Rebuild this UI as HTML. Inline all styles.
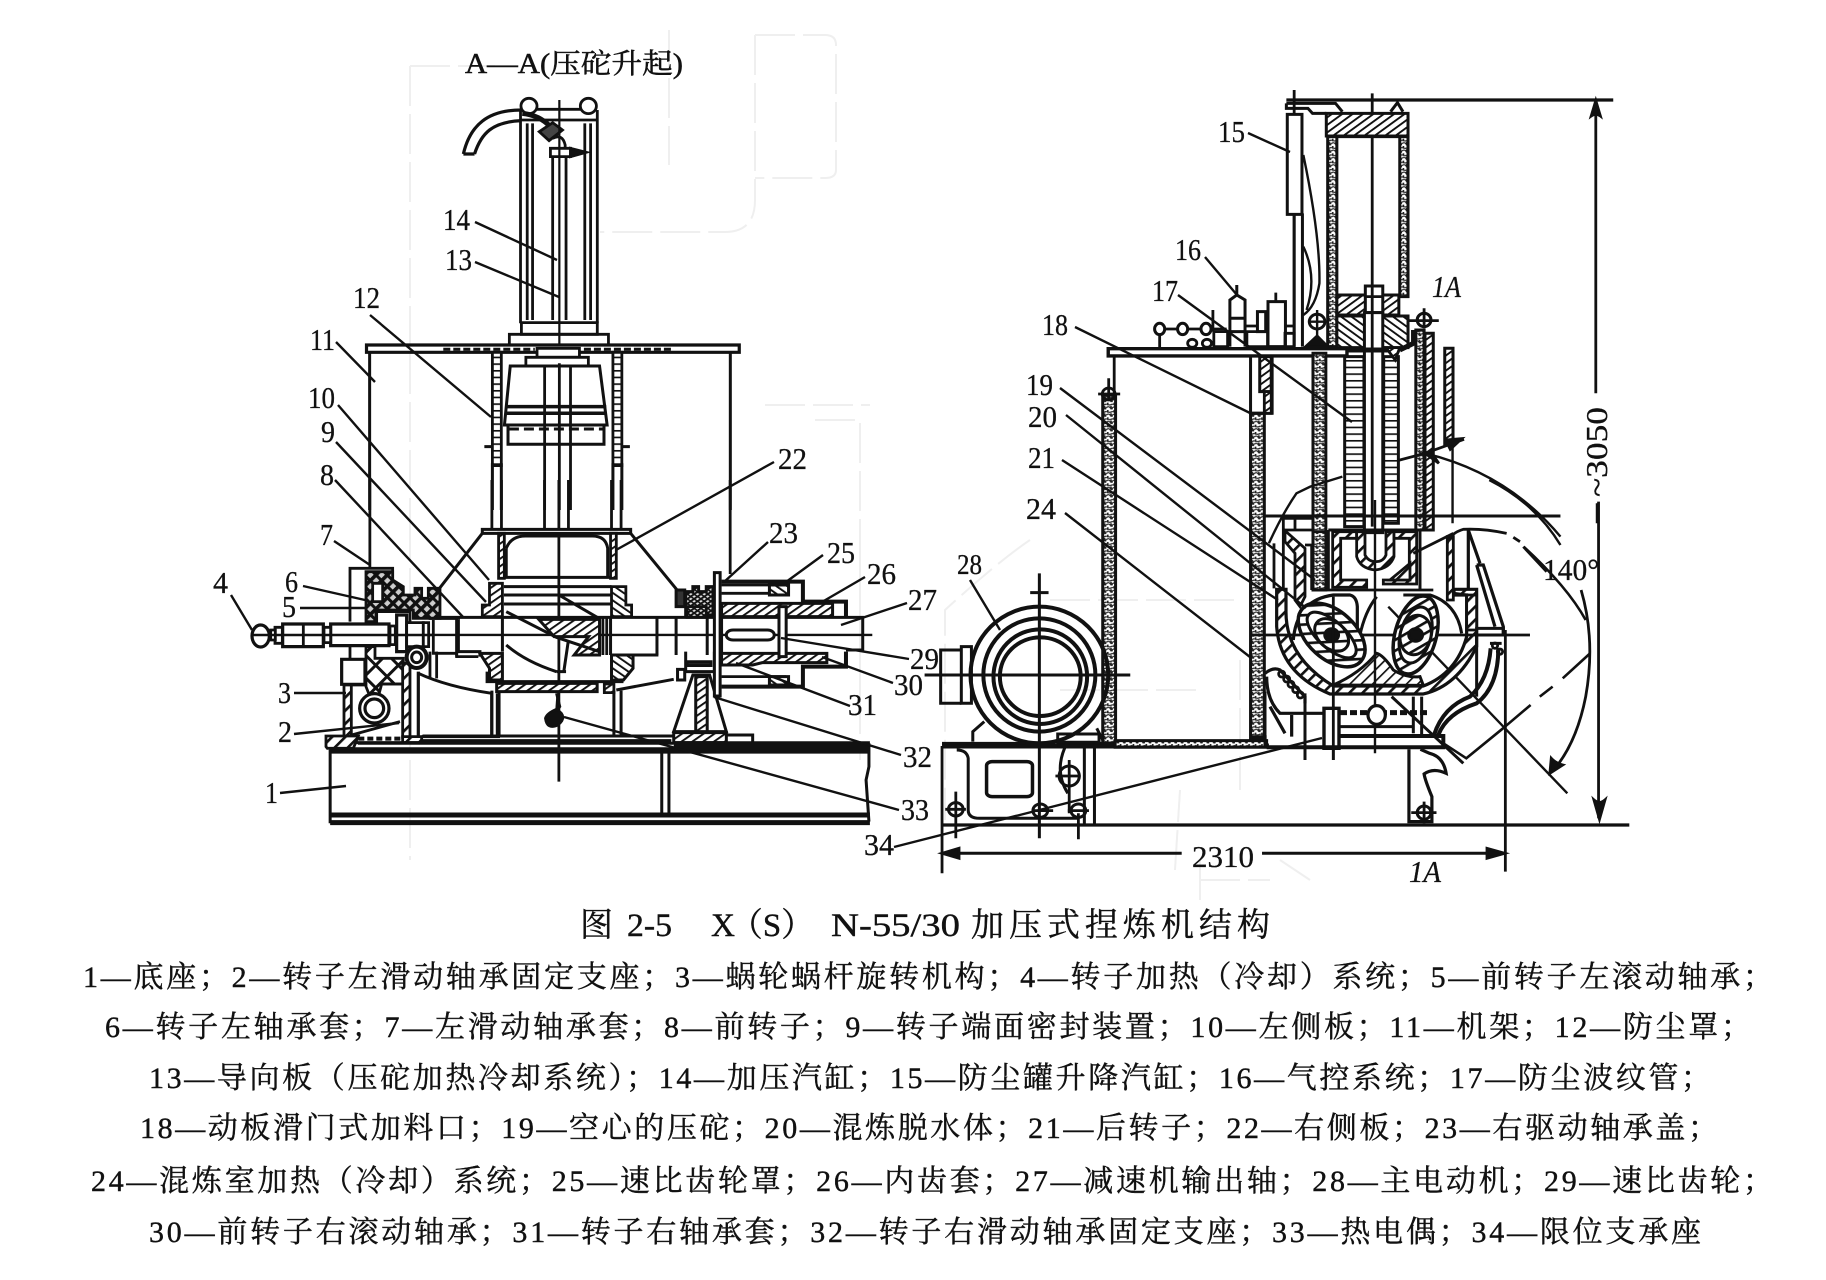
<!DOCTYPE html>
<html><head><meta charset="utf-8"><style>
html,body{margin:0;padding:0;background:#fff}
svg{display:block}
.z *{vector-effect:non-scaling-stroke}
.l{font-family:"Liberation Serif","Noto Serif CJK SC",serif;font-size:31px;fill:#111;stroke:#111;stroke-width:.3}
.c{font-family:"Liberation Serif","Noto Serif CJK SC",serif;font-size:30px;fill:#111;stroke:#111;stroke-width:.4}
</style></head><body>
<svg width="1826" height="1280" viewBox="0 0 1826 1280" xmlns="http://www.w3.org/2000/svg">
<defs>
<pattern id="h" width="16" height="16" patternUnits="userSpaceOnUse" patternTransform="rotate(45)"><rect width="16" height="16" fill="#fff"/><rect width="5" height="16" fill="#111"/></pattern>
<pattern id="b" width="16" height="16" patternUnits="userSpaceOnUse" patternTransform="rotate(-45)"><rect width="16" height="16" fill="#fff"/><rect width="5" height="16" fill="#111"/></pattern>
<pattern id="h3" width="28" height="28" patternUnits="userSpaceOnUse" patternTransform="rotate(45)"><rect width="28" height="28" fill="#fff"/><rect width="8" height="28" fill="#111"/></pattern>
<pattern id="h4" width="24" height="24" patternUnits="userSpaceOnUse" patternTransform="rotate(45)"><rect width="24" height="24" fill="#fff"/><rect width="5" height="24" fill="#111"/></pattern>
<pattern id="x" width="22" height="22" patternUnits="userSpaceOnUse" patternTransform="rotate(45)"><rect width="22" height="22" fill="#fff"/><rect width="5" height="22" fill="#111"/><rect width="22" height="5" fill="#111"/></pattern>
<pattern id="x3" width="48" height="48" patternUnits="userSpaceOnUse" patternTransform="rotate(45)"><rect width="48" height="48" fill="#fff"/><rect width="9" height="48" fill="#111"/><rect width="48" height="9" fill="#111"/></pattern>
<pattern id="s" width="24" height="24" patternUnits="userSpaceOnUse" patternTransform="rotate(45)"><rect width="24" height="24" fill="#ccc"/><rect width="11" height="24" fill="#111"/><rect width="24" height="9" fill="#111"/></pattern>
<pattern id="d" width="10" height="10" patternUnits="userSpaceOnUse" patternTransform="rotate(45)"><rect width="10" height="10" fill="#ddd"/><rect width="5" height="10" fill="#111"/><rect width="10" height="4" fill="#111"/></pattern>
<pattern id="m" width="14" height="22" patternUnits="userSpaceOnUse"><rect width="14" height="22" fill="#fff"/><path d="M0 4Q7 10 14 4M0 15Q5 9 9 16T14 13M3 0V8M10 10V20" stroke="#222" stroke-width="3.5" fill="none"/></pattern>
<pattern id="r" width="10" height="20" patternUnits="userSpaceOnUse"><rect width="10" height="20" fill="#fff"/><rect width="10" height="5" fill="#111"/></pattern>
</defs>

<!-- ghost scan marks -->
<g fill="none" stroke="#efefef" stroke-width="2" stroke-dasharray="40 8">
<path d="M410 66H495M410 66V520M669 30V165M755 35V200Q755 232 725 232H600M755 35H825Q836 35 836 45V170Q836 178 825 178H755"/>
<path d="M765 405H870M815 420H860V700M860 550V760M410 520V860"/>
<path d="M1030 540Q1000 560 945 610V820M1050 600H1240M1240 660V790M1060 690H1200M1200 880H1270"/>
<path d="M1200 900V860M1175 870L1180 790M1280 860L1310 880"/>
</g>

<!-- Z1 -->
<g class="z" transform="translate(200,30) scale(.4464,.3333)" fill="none" stroke="#111" stroke-width="2.8">
<ellipse cx="737" cy="228" rx="18" ry="23"/><ellipse cx="870" cy="228" rx="18" ry="23"/>
<path d="M755 238H852M720 270H890M718 240V880M733 280V870M745 280V870M862 280V870M875 280V870M890 240V880"/>
<path d="M590 372C605 285 645 240 720 240M615 372C630 310 655 275 720 272M590 372H615" stroke-width="3.2"/>
<path d="M722 250Q760 255 785 290" stroke-width="5"/>
<path d="M760 305L790 278L812 300L782 332Z" fill="#444"/>
<path d="M790 325Q812 310 818 345V360M790 380V870M820 380V870"/>
<rect x="785" y="355" width="45" height="25" fill="#fff"/><path d="M830 355L865 367L830 380Z" fill="#111"/>
<path d="M805 210V1440" stroke-width="2.2"/>
<rect x="720" y="878" width="170" height="35"/><rect x="693" y="913" width="222" height="32"/>
<rect x="373" y="945" width="835" height="22" fill="#fff" stroke-width="3.2"/>
<path d="M545 958H750M860 958H1060" stroke-dasharray="7 3" stroke-width="3"/>
<rect x="755" y="955" width="95" height="27" fill="#fff"/><rect x="730" y="982" width="140" height="26" fill="#fff"/>
<path d="M695 1008H895L912 1185H682Z" fill="#fff" stroke-width="3"/><path d="M684 1130H910M684 1150H910" stroke-width="3.5"/>
<rect x="690" y="1185" width="215" height="58" fill="#fff" stroke-width="3"/><path d="M692 1197H903" stroke-dasharray="10 5" stroke-width="3"/>
<path d="M772 1008V1440M830 1008V1440M805 1000V1440"/>
<path d="M380 967V1440M1188 967V1440" stroke-width="3"/>
<rect x="655" y="967" width="20" height="340" fill="url(#r)"/><rect x="925" y="967" width="20" height="340" fill="url(#r)"/>
<path d="M655 1300V1440M675 1300V1440M925 1300V1440M945 1300V1440M637 1250H655M945 1250H963" stroke-width="3"/>
</g>

<!-- Z2 -->
<g class="z" transform="translate(200,480) scale(.4785,.3333)" fill="none" stroke="#111" stroke-width="2.8">
<path d="M355 0V262M610 0V150M630 0V150M860 0V150M880 0V150M720 0V150M750 0V905M770 0V150M1108 0V282"/>
<rect x="590" y="148" width="310" height="12" fill="#fff" stroke-width="3"/>
<path d="M590 160L495 335M900 160L1000 335" stroke-width="3"/>
<rect x="624" y="160" width="12" height="135" fill="url(#h)"/><rect x="858" y="160" width="12" height="135" fill="url(#h)"/>
<path d="M640 205Q650 168 680 168H820Q848 168 852 205V292M640 292V205M635 292H860M635 320H860M635 345H860M635 372H860" stroke-width="3"/>
<path d="M605 310H632V410H590V375H605Z" fill="url(#h)"/><path d="M860 320H890V375H902V410H860Z" fill="url(#b)"/>
<path d="M500 412H1385V510H1350M540 420V515M632 410V515M858 410V525M955 415V525M995 415V525M1060 415V525M1090 415V520" stroke-width="3"/>
<path d="M535 515H585V530M880 525H958" stroke-width="3"/>
<path d="M270 465H1405" stroke-width="2.4"/>
<path d="M610 632V765M625 632V765M865 632V765M880 632V765" stroke-width="3"/>
<path d="M465 768H990" stroke-width="3"/><path d="M465 782H985M330 790H990" stroke-width="3"/>
<path d="M1100 765H1155V790" stroke-width="3"/>
<rect x="990" y="758" width="110" height="30" fill="url(#h)" stroke-width="3"/>
<path d="M270 808H1400M270 815H1400M990 790H1400M990 798H1400" stroke-width="4"/>
<path d="M272 810V1030M1398 790V860L1392 900L1398 1025" stroke-width="3"/>
<path d="M272 1005H1400" stroke-width="5"/><path d="M272 1028H1400" stroke-width="5"/>
<path d="M965 815V1003M980 815V1003" stroke-width="3"/>
<path d="M708 418H835V525H782L812 470H740Z" fill="url(#h)" stroke-width="3"/>
<path d="M842 415V525M850 415V525"/>
<path d="M640 395L745 472L835 515M750 345L830 412M640 495Q680 545 745 575M770 480L760 578M745 575H765" stroke-width="3"/>
<path d="M585 520H632V600H605V565Z" fill="url(#h)" stroke-width="3"/><path d="M860 525H905V565L885 600H860Z" fill="url(#b)" stroke-width="3"/>
<path d="M600 575V605H885" stroke-width="3"/>
<rect x="620" y="610" width="210" height="25" fill="url(#h)" stroke-width="3"/>
<rect x="845" y="612" width="20" height="26" fill="url(#h)"/>
<path d="M870 630L990 598" stroke-width="3"/><rect x="998" y="568" width="15" height="32" fill="#fff" stroke-width="3"/>
<path d="M745 640L752 680L742 700" fill="#111"/><path d="M745 688Q770 710 748 735Q725 750 722 715Q725 700 745 688Z" fill="#111"/>
<rect x="995" y="330" width="18" height="50" fill="#333" stroke-width="3"/>
<path d="M1015 405V335H1030V320H1042V335H1058V320H1072V405Z" fill="url(#d)" stroke-width="3"/>
<rect x="1018" y="380" width="40" height="32" fill="url(#d)"/>
<path d="M1015 515V575H1075V515" stroke-width="3"/><rect x="1018" y="545" width="50" height="12" fill="#222"/>
<path d="M1030 585L990 755H1100L1065 585Z" fill="#fff" stroke-width="3"/>
<rect x="1036" y="590" width="24" height="165" fill="url(#h)" stroke-width="3"/>
<rect x="1075" y="278" width="12" height="370" fill="#fff" stroke-width="3"/>
<path d="M1090 305H1260V365H1350V412M1350 515V560H1260V620H1090" stroke-width="4"/>
<path d="M1090 340H1225M1090 590H1225M1090 315H1190"/>
<rect x="1090" y="370" width="232" height="40" fill="url(#h)" stroke-width="3"/>
<path d="M1090 520H1310V548H1175L1155 555H1090Z" fill="url(#h)" stroke-width="3"/>
<rect x="1190" y="315" width="40" height="30" fill="url(#b)" stroke-width="3"/><rect x="1190" y="590" width="40" height="25" fill="url(#b)" stroke-width="3"/>
<rect x="1210" y="380" width="15" height="150" fill="#fff" stroke-width="3"/>
<rect x="1100" y="450" width="100" height="30" rx="14" fill="#fff" stroke-width="3"/>
</g>

<!-- Left bearing (isotropic detail) -->
<g class="z" transform="translate(240,550) scale(.3333)" fill="none" stroke="#111" stroke-width="2.8">
<path d="M330 215V55H458V90M330 290V325"/>
<path d="M378 215V65H458V90L490 110V135H525V115H545V145H565V115H600V205H520V180H410V215Z" fill="url(#s)"/>
<rect x="398" y="100" width="30" height="55" fill="#fff"/>
<path d="M408 215V185H510V215"/>
<rect x="272" y="222" width="175" height="65" fill="#fff" stroke-width="3.2"/>
<rect x="450" y="228" width="16" height="56" fill="#fff"/>
<rect x="470" y="195" width="30" height="110" fill="#fff" stroke-width="3.2"/>
<rect x="500" y="218" width="50" height="72" fill="#fff"/><rect x="550" y="218" width="16" height="72" fill="#fff"/>
<path d="M580 210V310H650V320H715"/><path d="M650 205V320M566 205H660" stroke-width="3"/>
<rect x="128" y="222" width="122" height="68" fill="#fff" stroke-width="3.2"/><path d="M190 222V290"/>
<rect x="252" y="232" width="20" height="46" fill="#fff"/><rect x="105" y="232" width="22" height="48" fill="#fff"/><rect x="92" y="240" width="14" height="30" fill="#fff"/>
<ellipse cx="62" cy="258" rx="26" ry="33" fill="#fff" stroke-width="3.2"/>
<path d="M40 255H580" stroke-width="2.4"/>
<path d="M378 290H405V325H490V402H425L415 440H390L378 410Z" fill="url(#x3)"/>
<rect x="305" y="328" width="70" height="75" fill="#fff" stroke-width="3.2"/>
<rect x="312" y="405" width="22" height="165" fill="url(#h3)"/>
<path d="M335 405H378M425 402H490"/>
<ellipse cx="403" cy="475" rx="44" ry="44" fill="#fff" stroke-width="3.2"/><ellipse cx="403" cy="475" rx="28" ry="28" stroke-width="3.2"/>
<path d="M335 555L480 515"/>
<rect x="488" y="340" width="22" height="222" fill="url(#h3)"/>
<path d="M535 365V558" stroke-width="3.2"/>
<ellipse cx="530" cy="322" rx="30" ry="32" fill="#fff" stroke-width="4"/><ellipse cx="530" cy="322" rx="15" ry="16" stroke-width="3"/>
<path d="M570 305V385M590 305V385"/>
<path d="M535 370Q620 410 755 430V558M772 430V558" stroke-width="3"/>
<path d="M258 558H355L340 595H262L258 590Z" fill="url(#h3)"/>
<path d="M355 566H490" stroke-dasharray="6 3" stroke-width="4"/>
<path d="M488 560H545V578H488Z" fill="url(#h3)"/>
<path d="M345 578H780M545 560H780" stroke-width="3"/>
</g>

<!-- Z3 -->
<g class="z" transform="translate(920,80) scale(.4591,.3333)" fill="none" stroke="#111" stroke-width="2.8">
<path d="M798 60H1510" stroke-width="3.2"/>
<path d="M815 30V800M985 40V620"/>
<path d="M798 70H905L920 95M798 70V85H845L855 100H885M1025 95L1040 68L1052 95" stroke-width="3"/>
<rect x="885" y="100" width="178" height="68" fill="url(#h)" stroke-width="3"/>
<rect x="888" y="170" width="20" height="630" fill="url(#m)" stroke-width="3"/>
<rect x="1045" y="170" width="18" height="480" fill="url(#m)" stroke-width="3"/>
<path d="M908 170H1045" stroke-width="3"/>
<rect x="908" y="645" width="135" height="60" fill="url(#h)" stroke-width="3"/>
<rect x="970" y="618" width="38" height="80" fill="#fff" stroke-width="3"/><path d="M970 650H1008M985 620V700"/>
<rect x="908" y="708" width="155" height="95" fill="url(#b)" stroke-width="3"/>
<rect x="968" y="698" width="40" height="660" fill="#fff" stroke-width="3"/><path d="M985 698V1340"/>
<rect x="800" y="103" width="32" height="300" fill="#fff" stroke-width="3"/>
<path d="M815 400V800M833 400V800" stroke-width="3"/>
<path d="M835 225Q872 470 870 610Q862 680 835 705M835 500Q866 590 842 690" stroke-width="2.4"/>
<ellipse cx="522" cy="747" rx="11" ry="17" stroke-width="3"/><ellipse cx="572" cy="747" rx="11" ry="17" stroke-width="3"/><ellipse cx="623" cy="747" rx="11" ry="17" stroke-width="3"/>
<path d="M533 747H561M583 747H612M634 747H668M522 764V802M638 690V755"/>
<ellipse cx="593" cy="790" rx="10" ry="12"/><ellipse cx="625" cy="790" rx="10" ry="12"/>
<rect x="640" y="755" width="30" height="45"/>
<path d="M675 800V660L690 645L708 660V800M675 715H708M675 755H708M690 615V645" stroke-width="3"/>
<rect x="735" y="695" width="18" height="60" stroke-width="3"/><rect x="758" y="665" width="38" height="135" stroke-width="3"/><rect x="712" y="755" width="45" height="45"/>
<path d="M775 638V665M796 738H815M708 738H735"/><rect x="795" y="760" width="20" height="40"/>
<ellipse cx="865" cy="725" rx="17" ry="22" stroke-width="3"/><path d="M865 690V770M845 725H885" stroke-width="2.4"/><path d="M840 800L865 768L888 800Z" fill="#111"/>
<ellipse cx="1098" cy="720" rx="15" ry="20" stroke-width="3"/><path d="M1098 685V745M1065 722H1130"/>
<rect x="410" y="806" width="520" height="22" fill="#fff" stroke-width="3.4"/>
<path d="M930 810H1045" stroke-width="5"/>
<path d="M423 828V1990" stroke-width="2.8"/>
<rect x="398" y="945" width="28" height="1045" fill="url(#m)" stroke-width="3"/>
<ellipse cx="411" cy="942" rx="14" ry="18"/><path d="M411 895V960M388 942H436"/>
<rect x="720" y="1000" width="30" height="985" fill="url(#m)" stroke-width="3"/>
<path d="M720 828V1000H767V828" stroke-width="3"/>
<rect x="740" y="830" width="25" height="105" fill="url(#h)" stroke-width="3"/><rect x="750" y="935" width="15" height="65" fill="url(#h)"/>
<rect x="856" y="820" width="28" height="710" fill="url(#m)" stroke-width="3"/>
<rect x="925" y="830" width="42" height="510" fill="url(#r)" stroke-width="3"/>
<rect x="1010" y="830" width="32" height="500" fill="url(#r)" stroke-width="3"/>
<path d="M1015 803L1035 840L1045 803Z" fill="url(#h)"/>
<path d="M1045 810L1075 790V750" stroke-width="5"/>
<rect x="1080" y="750" width="18" height="600" fill="url(#m)" stroke-width="3"/>
<rect x="1100" y="760" width="18" height="590" fill="url(#h)" stroke-width="3"/>
<rect x="1143" y="805" width="18" height="290" fill="url(#h)" stroke-width="3"/>
<path d="M1160 1095V1330" stroke-width="2.4"/>
<path d="M1040 1142L1100 1120L1185 1078M1145 1080L1180 1076L1155 1108ZM1100 1120L1130 1150L1115 1120Z" fill="#111"/>
<path d="M1100 1120Q1280 1180 1395 1370M920 1190L850 1220L820 1240Q790 1300 760 1390" stroke-width="2.4"/>
<path d="M750 1308H1395" stroke-width="3"/>
<path d="M1472 65V940M1475 1270V1330" stroke-width="2.8"/>
<path d="M1472 62L1462 108Q1472 98 1482 108Z" fill="#111"/>
</g>

<!-- Z4 -->
<g class="z" transform="translate(920,480) scale(.4591,.3333)" fill="none" stroke="#111" stroke-width="2.8">
<path d="M1478 65V1015" stroke-width="2.8"/><path d="M1480 1018L1468 960Q1480 975 1492 960Z" fill="#111"/>
<path d="M48 1035H1545" stroke-width="3.2"/>
<path d="M1275 450V1175M48 798V1180" stroke-width="2.8"/>
<path d="M50 1120H570M745 1120H1272" stroke-width="3"/>
<path d="M48 1120L85 1105V1135ZM1274 1120L1235 1105V1135Z" fill="#111"/>
<!-- motor -->
<ellipse cx="260" cy="585" rx="150" ry="205" stroke-width="4"/><ellipse cx="260" cy="585" rx="122" ry="170" stroke-width="4"/>
<ellipse cx="262" cy="590" rx="102" ry="142" stroke-width="4"/><ellipse cx="262" cy="590" rx="88" ry="118" stroke-width="4"/>
<path d="M260 280V1075M10 585H458M240 338H280" stroke-width="3"/>
<path d="M90 510H45V670H90" stroke-width="3"/><rect x="90" y="500" width="22" height="170" stroke-width="3"/>
<path d="M48 798H760" stroke-width="5"/><path d="M48 790H230M300 790H400"/>
<path d="M115 785V755L140 725M400 785L385 745M240 798H300" stroke-width="3"/><rect x="300" y="762" width="90" height="25" stroke-width="3"/>
<path d="M80 810Q102 810 105 835V990Q105 1015 130 1015H345M358 805V1035M380 805V1035" stroke-width="3"/>
<rect x="145" y="845" width="100" height="105" rx="12" stroke-width="3.5"/>
<path d="M320 790Q290 870 322 940" stroke-width="3"/>
<ellipse cx="325" cy="888" rx="22" ry="30" stroke-width="3"/><path d="M325 840V1000M295 888H350"/>
<ellipse cx="78" cy="988" rx="16" ry="20" stroke-width="3"/><path d="M78 935V1075M55 988H100"/>
<ellipse cx="262" cy="992" rx="16" ry="20" stroke-width="3"/><path d="M245 992H290"/>
<ellipse cx="345" cy="992" rx="16" ry="20" stroke-width="3"/><path d="M345 1000V1078M322 992H368"/>
<ellipse cx="1098" cy="998" rx="15" ry="20" stroke-width="3"/><path d="M1070 998H1125M1098 965V1030"/>
<rect x="425" y="782" width="330" height="20" fill="url(#m)" stroke-width="3"/>
<rect x="722" y="770" width="30" height="12" fill="#111"/>
<!-- hook -->
<path d="M1065 808V1025H1115V950Q1100 900 1098 882Q1118 862 1146 880Q1140 830 1110 820L1090 808" stroke-width="3.2"/>
<!-- arcs / dims -->
<path d="M1315 200Q1410 320 1450 420" stroke-width="2.6"/>
<path d="M1240 0Q1340 70 1395 195" stroke-width="2.4"/>
<path d="M1020 380L1410 940" stroke-width="2.4"/>
<path d="M1140 790L1190 835L1270 745M1270 745L1330 675M1350 650L1378 620M1400 595L1458 522" stroke-width="2.6"/>
<path d="M1440 330Q1472 480 1450 650Q1430 790 1380 870" stroke-width="2.8"/>
<path d="M1372 880L1375 835Q1385 850 1400 855Z" fill="#111"/>
</g>

<!-- Chamber (isotropic detail) -->
<g class="z" transform="translate(1250,500) scale(.3333)" fill="none" stroke="#111" stroke-width="2.8">
<path d="M100 55H135V90H100ZM135 55H190M72 130V265M100 55V265M100 90H185" />
<path d="M105 92L165 145V290L150 320L135 300V160L105 125Z" fill="url(#h3)"/>
<path d="M165 135H185V270M185 95H235M185 270H550"/>
<path d="M80 268H108V330Q105 470 250 558H520Q620 520 650 410V285H612V268H680V440Q620 560 520 582H240Q90 520 80 380Z" fill="url(#h3)" stroke-width="3.2"/>
<path d="M130 420Q140 300 250 285H300Q320 290 322 320V430" stroke-width="3.2"/>
<path d="M380 290Q340 340 325 430M460 285H540Q620 310 635 400" stroke-width="3"/>
<path d="M250 555Q330 520 380 460Q400 465 430 510Q470 535 510 530L520 556Z" fill="url(#h4)" stroke-width="3"/>
<!-- press -->
<path d="M235 90H510V270M235 90V270" stroke-width="3"/>
<path d="M248 95H320V115H272V240H350V262H248Z" fill="url(#h3)"/>
<path d="M320 95H345V165Q355 185 378 185Q400 185 408 165V95H432V170Q420 205 375 210Q330 205 320 170Z" fill="url(#h3)"/>
<path d="M432 95H500V252H400V240H478V115H432Z" fill="url(#h3)"/>
<path d="M420 240L480 190V240Z" fill="url(#h3)"/>
<path d="M375 0V760" stroke-width="2.4"/>
<path d="M490 160L610 100"/>
<!-- right -->
<rect x="592" y="110" width="18" height="190" fill="url(#h3)"/>
<path d="M592 130Q600 100 640 88Q700 85 770 100M790 112L810 125M820 140L890 215" stroke-width="2.8"/>
<path d="M655 90V265M655 90L690 190M680 195H700L760 380V405M680 195L735 380" stroke-width="3.2"/>
<rect x="650" y="285" width="30" height="105" fill="url(#h3)"/>
<path d="M612 280L650 285M680 385H760V405H680Z" stroke-width="3"/>
<path d="M0 405H840" stroke-width="2.8"/>
<path d="M720 430H755M680 405V590" stroke-width="3"/>
<circle cx="735" cy="437" r="8"/><circle cx="750" cy="455" r="8"/>
<path d="M745 445Q745 560 680 610Q590 640 565 705M722 445Q715 540 660 590Q580 620 552 705" stroke-width="4"/>
<!-- rotors -->
<ellipse cx="245" cy="405" rx="118" ry="72" fill="url(#h3)" stroke-width="3.5" transform="rotate(42 245 405)"/>
<ellipse cx="245" cy="405" rx="92" ry="40" fill="#fff" stroke-width="3" transform="rotate(42 245 405)"/>
<ellipse cx="245" cy="405" rx="58" ry="40" fill="url(#h3)" stroke-width="3" transform="rotate(42 245 405)"/>
<ellipse cx="245" cy="405" rx="21" ry="19" fill="#111"/>
<ellipse cx="497" cy="405" rx="62" ry="120" fill="url(#h3)" stroke-width="3.5" transform="rotate(15 497 405)"/>
<ellipse cx="497" cy="405" rx="46" ry="86" fill="#fff" stroke-width="3" transform="rotate(15 497 405)"/>
<ellipse cx="497" cy="405" rx="46" ry="60" fill="url(#h3)" stroke-width="3" transform="rotate(15 497 405)"/>
<ellipse cx="497" cy="405" rx="21" ry="19" fill="#111"/>
<path d="M250 290V780"/>
<!-- left lower -->
<path d="M45 520Q70 500 90 510L165 590V610M50 530Q50 600 90 640H222M60 620L105 700M125 645V710" stroke-width="3.2"/>
<circle cx="95" cy="522" r="9"/><circle cx="110" cy="537" r="9"/><circle cx="123" cy="553" r="9"/><circle cx="137" cy="569" r="9"/><circle cx="151" cy="585" r="9"/>
<path d="M165 580V780" stroke-width="3"/>
<rect x="222" y="625" width="45" height="120" fill="#fff" stroke-width="3.4"/><path d="M250 620V780"/>
<path d="M270 638H540" stroke-dasharray="7 3" stroke-width="5"/>
<ellipse cx="380" cy="645" rx="26" ry="28" fill="#fff" stroke-width="3.2"/>
<path d="M270 680H490M490 590V700M515 590V705M425 590L640 790" stroke-width="3"/>
<path d="M270 708H580V742H50" stroke-width="4"/>
<path d="M45 575V740" stroke-width="3"/>
</g>

<!-- leaders -->
<g stroke="#111" stroke-width="2.4" fill="none">
<path d="M475 222L557 260M475 262L559 297M370 315L491 417M336 342L375 382M338 405L489 580M336 442L486 602M335 480L463 617M774 462L616 550"/>
<path d="M334 541L370 565M303 586L365 600M300 608L365 608M231 595L252 630M294 693L346 693M294 734L399 723M280 793L346 786"/>
<path d="M768 542L724 582M823 555L786 582M865 577L822 602M907 603L841 625M909 659L781 638M893 683L822 657M850 706L736 663M901 755L714 697M899 810L564 717"/>
<path d="M894 847L1322 738M1248 133L1290 152M1205 257L1237 295M1178 295L1352 422M1075 327L1250 413"/>
<path d="M1060 388L1315 580M1066 415L1306 608M1062 460L1278 600M1065 513L1250 657M970 580L1000 630"/>
</g>

<!-- diagram labels -->
<g class="l">
<text x="465" y="73" textLength="218" lengthAdjust="spacingAndGlyphs" style="font-size:28px;stroke-width:.5">A—A(压砣升起)</text>
<text x="443" y="230" textLength="27" lengthAdjust="spacingAndGlyphs">14</text>
<text x="445" y="270" textLength="27" lengthAdjust="spacingAndGlyphs">13</text>
<text x="353" y="308" textLength="27" lengthAdjust="spacingAndGlyphs">12</text>
<text x="310" y="350" textLength="25" lengthAdjust="spacingAndGlyphs">11</text>
<text x="308" y="408" textLength="27" lengthAdjust="spacingAndGlyphs">10</text>
<text x="321" y="442" textLength="14" lengthAdjust="spacingAndGlyphs">9</text>
<text x="320" y="485" textLength="14" lengthAdjust="spacingAndGlyphs">8</text>
<text x="778" y="469" textLength="29" lengthAdjust="spacingAndGlyphs">22</text>
<text x="320" y="545" textLength="13" lengthAdjust="spacingAndGlyphs">7</text>
<text x="285" y="592" textLength="13" lengthAdjust="spacingAndGlyphs">6</text>
<text x="282" y="617" textLength="14" lengthAdjust="spacingAndGlyphs">5</text>
<text x="213" y="593" textLength="15" lengthAdjust="spacingAndGlyphs">4</text>
<text x="278" y="703" textLength="13" lengthAdjust="spacingAndGlyphs">3</text>
<text x="278" y="742" textLength="14" lengthAdjust="spacingAndGlyphs">2</text>
<text x="265" y="803" textLength="13" lengthAdjust="spacingAndGlyphs">1</text>
<text x="769" y="543" textLength="29" lengthAdjust="spacingAndGlyphs">23</text>
<text x="827" y="563" textLength="28" lengthAdjust="spacingAndGlyphs">25</text>
<text x="867" y="584" textLength="29" lengthAdjust="spacingAndGlyphs">26</text>
<text x="908" y="610" textLength="29" lengthAdjust="spacingAndGlyphs">27</text>
<text x="910" y="669" textLength="29" lengthAdjust="spacingAndGlyphs">29</text>
<text x="894" y="695" textLength="29" lengthAdjust="spacingAndGlyphs">30</text>
<text x="848" y="715" textLength="29" lengthAdjust="spacingAndGlyphs">31</text>
<text x="903" y="767" textLength="29" lengthAdjust="spacingAndGlyphs">32</text>
<text x="901" y="820" textLength="28" lengthAdjust="spacingAndGlyphs">33</text>
<text x="864" y="855" textLength="30" lengthAdjust="spacingAndGlyphs">34</text>
<text x="1218" y="142" textLength="27" lengthAdjust="spacingAndGlyphs">15</text>
<text x="1175" y="260" textLength="26" lengthAdjust="spacingAndGlyphs">16</text>
<text x="1152" y="301" textLength="26" lengthAdjust="spacingAndGlyphs">17</text>
<text x="1042" y="335" textLength="26" lengthAdjust="spacingAndGlyphs">18</text>
<text x="1026" y="395" textLength="27" lengthAdjust="spacingAndGlyphs">19</text>
<text x="1028" y="427" textLength="29" lengthAdjust="spacingAndGlyphs">20</text>
<text x="1028" y="468" textLength="27" lengthAdjust="spacingAndGlyphs">21</text>
<text x="1026" y="519" textLength="30" lengthAdjust="spacingAndGlyphs">24</text>
<text x="1432" y="297" textLength="29" lengthAdjust="spacingAndGlyphs" font-style="italic">1A</text>
<text x="957" y="574" textLength="25" lengthAdjust="spacingAndGlyphs" style="font-size:28px">28</text>
<text x="1543" y="580" textLength="56" lengthAdjust="spacingAndGlyphs">140°</text>
<text x="1192" y="867" textLength="62" lengthAdjust="spacingAndGlyphs">2310</text>
<text x="1409" y="882" textLength="32" lengthAdjust="spacingAndGlyphs" font-style="italic">1A</text>
<text transform="translate(1607,497) rotate(-90)" textLength="90" lengthAdjust="spacingAndGlyphs">~3050</text>
</g>

<!-- caption -->
<g class="c">
<g style="font-size:33px">
<text x="580" y="936" textLength="35">图</text>
<text x="627" y="936" textLength="45" lengthAdjust="spacingAndGlyphs">2-5</text>
<text x="711" y="936" textLength="24" lengthAdjust="spacingAndGlyphs">X</text>
<text x="730" y="936" textLength="84" lengthAdjust="spacingAndGlyphs">（S）</text>
<text x="831" y="936" textLength="129" lengthAdjust="spacingAndGlyphs">N-55/30</text>
<text x="971" y="936" textLength="299">加压式捏炼机结构</text>
</g>
<text x="83" y="987" textLength="1690">1—底座；2—转子左滑动轴承固定支座；3—蜗轮蜗杆旋转机构；4—转子加热（冷却）系统；5—前转子左滚动轴承；</text>
<text x="105" y="1037" textLength="1646">6—转子左轴承套；7—左滑动轴承套；8—前转子；9—转子端面密封装置；10—左侧板；11—机架；12—防尘罩；</text>
<text x="149" y="1088" textLength="1562">13—导向板（压砣加热冷却系统）；14—加压汽缸；15—防尘罐升降汽缸；16—气控系统；17—防尘波纹管；</text>
<text x="140" y="1138" textLength="1578">18—动板滑门式加料口；19—空心的压砣；20—混炼脱水体；21—后转子；22—右侧板；23—右驱动轴承盖；</text>
<text x="91" y="1191" textLength="1682">24—混炼室加热（冷却）系统；25—速比齿轮罩；26—内齿套；27—减速机输出轴；28—主电动机；29—速比齿轮；</text>
<text x="149" y="1242" textLength="1552">30—前转子右滚动轴承；31—转子右轴承套；32—转子右滑动轴承固定支座；33—热电偶；34—限位支承座</text>
</g>
</svg>
</body></html>
